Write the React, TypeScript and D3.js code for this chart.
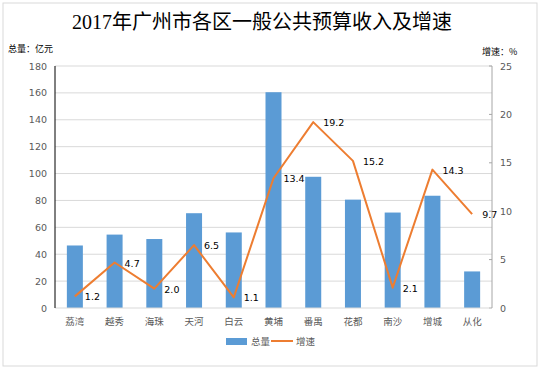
import React from "react";
import * as d3 from "d3";

const categories = ["荔湾", "越秀", "海珠", "天河", "白云", "黄埔", "番禺", "花都", "南沙", "增城", "从化"];
const totals = [46.5, 54.6, 51.3, 70.5, 56.2, 160.5, 97.6, 80.6, 71.0, 83.5, 27.2];
const growth = [1.2, 4.7, 2.0, 6.5, 1.1, 13.4, 19.2, 15.2, 2.1, 14.3, 9.7];
const leftTicks = [0, 20, 40, 60, 80, 100, 120, 140, 160, 180];
const rightTicks = [0, 5, 10, 15, 20, 25];

const W = 542, H = 372;
const L = 55, R = 492, T = 66, B = 308;
const numFont = '"DejaVu Sans", "Noto Sans CJK SC", sans-serif';
const cjkFont = '"Noto Sans CJK SC", sans-serif';

export default function App() {
  const x = d3.scaleBand<string>().domain(categories).range([L, R]).paddingInner(0).paddingOuter(0);
  const yL = d3.scaleLinear().domain([0, 180]).range([B, T]);
  const yR = d3.scaleLinear().domain([0, 25]).range([B, T]);
  const bw = 16;
  const cx = (c: string) => (x(c) as number) + x.bandwidth() / 2;
  const line = d3.line<number>().x((_, i) => cx(categories[i])).y((d) => yR(d));

  return (
    <svg width={W} height={H} style={{ position: "absolute", left: 0, top: 0, background: "#fff" }}>
      <rect x={3} y={3} width={534} height={363} fill="#fff" stroke="#d9d9d9" strokeWidth={1} />
      <text x={262} y={29} textAnchor="middle" fontSize={20} fontFamily={'"Liberation Serif", "Noto Sans CJK SC", serif'} fill="#000">
        2017年广州市各区一般公共预算收入及增速
      </text>
      <text x={8} y={52} fontSize={9} fontFamily={cjkFont} fill="#000">总量：亿元</text>
      <text x={482} y={55} fontSize={9} fontFamily={cjkFont} fill="#000">增速：%</text>
      {leftTicks.map((t) => (
        <g key={"l" + t}>
          {t > 0 && <line x1={L} x2={R} y1={yL(t)} y2={yL(t)} stroke="#d9d9d9" strokeWidth={1} />}
          <text x={47} y={yL(t) + 3.5} textAnchor="end" fontSize={9.5} fontFamily={numFont} fill="#595959">{t}</text>
        </g>
      ))}
      {rightTicks.map((t) => (
        <g key={"r" + t}>
          <line x1={R} x2={R - 3} y1={yR(t)} y2={yR(t)} stroke="#a6a6a6" />
          <text x={500} y={yR(t) + 3.5} textAnchor="start" fontSize={9.5} fontFamily={numFont} fill="#595959">{t}</text>
        </g>
      ))}
      {categories.map((c, i) => (
        <rect key={c} x={cx(c) - bw / 2} y={yL(totals[i])} width={bw} height={B - yL(totals[i])} fill="#5b9bd5" />
      ))}
      <line x1={L} x2={R} y1={B} y2={B} stroke="#d9d9d9" />
      <line x1={L} x2={L} y1={T} y2={B} stroke="#000" />
      <line x1={R} x2={R} y1={T} y2={B} stroke="#a6a6a6" />
      <path d={line(growth) || ""} fill="none" stroke="#ed7d31" strokeWidth={2} strokeLinejoin="round" />
      {categories.map((c, i) => (
        <text key={"v" + c} x={cx(c) + 10} y={yR(growth[i]) + 4} fontSize={9.5} fontFamily={numFont} fill="#000">
          {growth[i].toFixed(1)}
        </text>
      ))}
      {categories.map((c) => (
        <text key={"c" + c} x={cx(c)} y={325} textAnchor="middle" fontSize={9.5} fontFamily={cjkFont} fill="#595959">{c}</text>
      ))}
      <rect x={226} y={338} width={21} height={7} fill="#5b9bd5" />
      <text x={251} y={345} fontSize={9.5} fontFamily={cjkFont} fill="#595959">总量</text>
      <line x1={271} x2={293} y1={341} y2={341} stroke="#ed7d31" strokeWidth={2} />
      <text x={296} y={345} fontSize={9.5} fontFamily={cjkFont} fill="#595959">增速</text>
    </svg>
  );
}
